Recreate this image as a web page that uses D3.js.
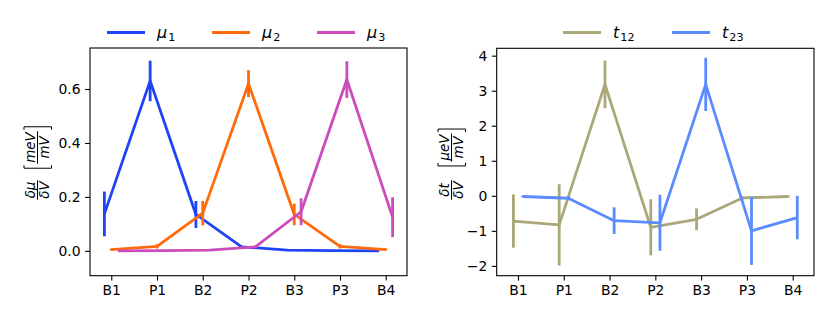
<!DOCTYPE html>
<meta charset="utf-8">
<head>
<script src="https://d3js.org/d3.v7.min.js"></script>
<style>
  body { margin: 0; background: white; }
  text { font-family: "DejaVu Sans", sans-serif; fill: #000; }
</style>
</head>
<body>
<svg id="chart" width="830" height="317"></svg>
<script>

// categories along x
var categories = ["B1", "P1", "B2", "P2", "B3", "P3", "B4"];

// left panel: chemical potential derivatives
var mu1    = [0.137, 0.630, 0.135, 0.015, 0.003, 0.001, 0.000];
var mu1Err = [0.083, 0.075, 0.050, 0.004, 0.002, 0.001, 0.001];
var mu2    = [0.005, 0.017, 0.140, 0.620, 0.135, 0.017, 0.005];
var mu2Err = [0.004, 0.008, 0.045, 0.050, 0.040, 0.008, 0.004];
var mu3    = [0.000, 0.001, 0.003, 0.015, 0.145, 0.635, 0.125];
var mu3Err = [0.001, 0.001, 0.002, 0.005, 0.050, 0.068, 0.074];
var muTicks = [0.0, 0.2, 0.4, 0.6];

// right panel: tunnel coupling derivatives
var t12    = [-0.72, -0.83, 3.18, -0.90, -0.67, -0.06, -0.02];
var t12Err = [0.76, 1.16, 0.68, 0.80, 0.31, 0.05, 0.03];
var t23    = [-0.02, -0.07, -0.71, -0.77, 3.18, -1.00, -0.62];
var t23Err = [0.02, 0.05, 0.38, 0.80, 0.76, 0.97, 0.62];
var tTicks = [-2, -1, 0, 1, 2, 3, 4];

var svg = d3.select("#chart");

function drawPanel(opt) {
	var g = svg.append("g");

	var x = d3.scaleLinear().domain([-0.465, 6.465]).range([opt.left, opt.right]);
	var y = d3.scaleLinear().domain(opt.ydomain).range([opt.bottom, opt.top]);

	// axes
	g.append("g")
		.attr("transform", "translate(0," + opt.bottom + ")")
		.call(d3.axisBottom(x).tickValues(d3.range(categories.length))
			.tickFormat(function(i) { return categories[i]; })
			.tickSize(4.9).tickPadding(4.5))
		.call(styleAxis);
	g.append("g")
		.attr("transform", "translate(" + opt.left + ",0)")
		.call(d3.axisLeft(y).tickValues(opt.ticks).tickFormat(opt.fmt)
			.tickSize(4.9).tickPadding(4.5))
		.call(styleAxis);

	// frame
	g.append("rect")
		.attr("x", opt.left).attr("y", opt.top)
		.attr("width", opt.right - opt.left).attr("height", opt.bottom - opt.top)
		.attr("fill", "none").attr("stroke", "#000").attr("stroke-width", 1.1);

	var line = d3.line().x(function(d) { return x(d.x); }).y(function(d) { return y(d.v); });

	opt.series.forEach(function(s) {
		var pts = s.values.map(function(v, i) { return { x: i + s.offset, v: v, e: s.err[i] }; });
		g.append("path")
			.attr("d", line(pts))
			.attr("fill", "none").attr("stroke", s.color)
			.attr("stroke-width", 2.8).attr("stroke-linejoin", "round");
		g.selectAll(null).data(pts).enter().append("line")
			.attr("x1", function(d) { return x(d.x); })
			.attr("x2", function(d) { return x(d.x); })
			.attr("y1", function(d) { return y(d.v - d.e); })
			.attr("y2", function(d) { return y(d.v + d.e); })
			.attr("stroke", s.color).attr("stroke-width", 2.8);
	});

	// legend
	opt.series.forEach(function(s, i) {
		var lx = opt.legendX[i];
		g.append("line")
			.attr("x1", lx).attr("x2", lx + 38)
			.attr("y1", 32.5).attr("y2", 32.5)
			.attr("stroke", s.color).attr("stroke-width", 2.8);
		var t = g.append("text").attr("x", lx + 50).attr("y", 37.5)
			.style("font-size", "16px");
		t.append("tspan").style("font-style", "italic").text(s.sym);
		t.append("tspan").attr("dx", 1).attr("dy", 3.5).style("font-size", "11.2px").text(s.sub);
	});

	// y label: fraction + bracketed unit fraction, rotated
	var lab = g.append("g")
		.attr("transform", "translate(" + opt.labX + "," + opt.labY + ") rotate(-90)");
	function frac(cx, num, den) {
		var a = lab.append("text").attr("x", cx).attr("y", -2.3).attr("text-anchor", "middle")
			.style("font-size", "13.4px").style("font-style", "italic").text(num);
		var b = lab.append("text").attr("x", cx).attr("y", 11.8).attr("text-anchor", "middle")
			.style("font-size", "13.4px").style("font-style", "italic").text(den);
		var w = Math.max(a.node().getComputedTextLength(), b.node().getComputedTextLength()) + 2;
		lab.append("line").attr("x1", cx - w / 2).attr("x2", cx + w / 2)
			.attr("y1", 0.5).attr("y2", 0.5).attr("stroke", "#000").attr("stroke-width", 1);
		return w;
	}
	frac(opt.fracX, opt.labNum, "\u03b4V");
	var uw = frac(opt.unitX, opt.unitNum, "mV");
	var bl = opt.unitX - uw / 2 - 4.5, br = opt.unitX + uw / 2 + 4.5;
	lab.append("path")
		.attr("d", "M" + (bl + 3) + ",-13 H" + bl + " V14.5 H" + (bl + 3) +
			" M" + (br - 3) + ",-13 H" + br + " V14.5 H" + (br - 3))
		.attr("fill", "none").attr("stroke", "#000").attr("stroke-width", 1);
}

function styleAxis(sel) {
	sel.select(".domain").remove();
	sel.selectAll(".tick line").attr("stroke", "#000").attr("stroke-width", 1.1);
	sel.selectAll(".tick text").style("font-size", "13.9px").attr("fill", "#000");
}

drawPanel({
	left: 90, right: 407, top: 48, bottom: 275.7,
	ydomain: [-0.092, 0.752], ticks: muTicks, fmt: d3.format(".1f"),
	series: [
		{ values: mu1, err: mu1Err, offset: -0.15, color: "#1f44f5", sym: "\u03bc", sub: "1" },
		{ values: mu2, err: mu2Err, offset: 0, color: "#ff6a0a", sym: "\u03bc", sub: "2" },
		{ values: mu3, err: mu3Err, offset: 0.15, color: "#cc4cbb", sym: "\u03bc", sub: "3" }
	],
	legendX: [107, 212, 317],
	labX: 37, labY: 160, fracX: -30, unitX: 12.5, labNum: "\u03b4\u03bc", unitNum: "meV"
});

drawPanel({
	left: 496.7, right: 814, top: 48.3, bottom: 275.7,
	ydomain: [-2.28, 4.21], ticks: tTicks, fmt: function(d) { return d < 0 ? "\u2212" + (-d) : d; },
	series: [
		{ values: t12, err: t12Err, offset: -0.1, color: "#aaa878", sym: "t", sub: "12" },
		{ values: t23, err: t23Err, offset: 0.1, color: "#5a8cff", sym: "t", sub: "23" }
	],
	legendX: [563, 672],
	labX: 451, labY: 160, fracX: -30, unitX: 12.5, labNum: "\u03b4t", unitNum: "\u03bceV"
});

</script>
</body>
